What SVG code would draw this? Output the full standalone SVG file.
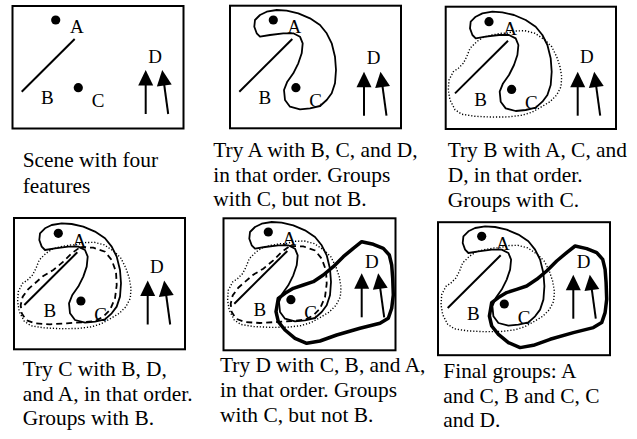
<svg xmlns="http://www.w3.org/2000/svg" xmlns:xlink="http://www.w3.org/1999/xlink" width="637" height="439" viewBox="0 0 637 439">
<style>
.frame{fill:#fff;stroke:#000;stroke-width:2}
.lbl{font-size:19px;fill:#000}
.cap{font-size:21.4px;fill:#000}
.thin{fill:none;stroke:#000;stroke-width:1.8;stroke-linejoin:round}
.dot{fill:none;stroke:#000;stroke-width:1.4;stroke-dasharray:1.2 1.9}
.dash{fill:none;stroke:#000;stroke-width:1.8;stroke-dasharray:6 4}
.thick{fill:none;stroke:#000;stroke-width:3.5;stroke-linejoin:round}
.shaft{stroke:#000;stroke-width:2}
</style>
<defs>
<g id="abc">
<circle cx="55.7" cy="20" r="4.6"/>
<text class="lbl" x="70" y="33.3">A</text>
<line class="shaft" x1="21.7" y1="91.7" x2="74.7" y2="39" stroke-width="1.8"/>
<text class="lbl" x="41" y="104">B</text>
<circle cx="78.3" cy="87.7" r="4.6"/>
<text class="lbl" x="91.7" y="107.3">C</text>
</g>
<g id="arrows">
<line class="shaft" x1="0" y1="14" x2="0" y2="44"/>
<polygon points="0,0 -7.5,15.5 7.5,15.5"/>
<line class="shaft" x1="18.4" y1="14" x2="22.5" y2="44"/>
<polygon points="16.5,0 26,14.4 11.2,16.4"/>
</g>
<path id="blobAC" class="thin" d="M42.4,15 L37.4,20 L36.7,26.7 L39.1,33.3 L42.4,36.7 L52.4,35 L65.7,33.3 L75.7,33.3 L82.4,36.7 L85.1,43.3 L84.1,53.3 L80.7,63.3 L75.7,73.3 L69.7,81.7 L66.4,90 L67.4,100 L72.4,106.7 L82.4,109.3 L92.4,108.3 L102.4,106 L109.1,100 L114.1,93.3 L117.4,83.3 L118.4,70 L117.4,56.7 L114.1,43.3 L109.1,33.3 L102.4,25 L92.4,18.3 L80.7,13.3 L69.1,10.7 L59.1,10 L49.1,11.7 Z"/>
<path id="blobBC" class="dot" d="M73.4,31.6 L81.7,29.3 L91.7,29 L101.7,31.6 L111.7,38.3 L118.4,45 L123.4,55 L126.7,65 L128.4,75 L127.7,85 L123.4,93.3 L116.7,100 L108.4,105 L98.4,110.6 L88.4,113.6 L75,115.2 L58.4,115.4 L41.7,114.6 L28.4,112.5 L21.7,108 L16.7,98.3 L15,88.3 L15.7,78.3 L20,70 L25,66.6 L30,61.6 L33.4,55 L36.7,46.6 L43.4,40 L50,35.6 L58.4,33.3 L68.4,31.6 Z"/>
<path id="blobDash" class="dash" d="M77.4,34 L90.7,34.4 L102.4,38.4 L109.1,46.7 L113.4,58.4 L114.1,71.7 L112.4,85 L107.4,96.7 L100.7,103.4 L92.4,107.7 L79.1,109 L64.1,110 L47.4,111 L32.4,110 L23.4,106.7 L19.1,100 L18.1,91.7 L20.1,83.4 L25.7,75.7 L34.1,68.4 L40.7,62.7 L50.7,56.7 L60.7,48.4 L69.1,40 Z"/>
<path id="blobCD" class="thick" d="M149.1,29.7 L160.7,32.3 L170.7,36.3 L176.7,43 L179.1,53 L180.1,66.3 L180.7,83 L179.1,96.3 L175.7,106.3 L167.4,111.3 L147.4,116.3 L124.1,123 L107.4,129 L94.1,131.3 L82.4,126.3 L72.4,118 L65.7,109.7 L63.4,99.7 L65.7,86.3 L72.4,81.3 L80.7,76.3 L90.7,73 L100.7,69.7 L110.7,63 L120.7,54.7 L130.7,44.7 L140.7,36.3 Z"/>
</defs>

<g font-family="Liberation Serif, Times New Roman, DejaVu Serif, serif">
<g id="panel1">
<rect class="frame" x="12.5" y="6" width="171" height="122.5"/>
<use xlink:href="#abc"/>
<text class="lbl" x="148.3" y="62.7">D</text>
<use xlink:href="#arrows" transform="translate(145.7,70)"/>
<text class="cap" x="22.7" y="166.7">Scene with four</text>
<text class="cap" x="22.7" y="192.7">features</text>
</g>

<g id="panel2">
<rect class="frame" x="230" y="5.7" width="171" height="122.6"/>
<g transform="translate(217.6,0)">
<use xlink:href="#abc"/>
<use xlink:href="#blobAC"/>
</g>
<text class="lbl" x="366.7" y="64.3">D</text>
<use xlink:href="#arrows" transform="translate(364,71.7)"/>
<text class="cap" x="213.3" y="156.7">Try A with B, C, and D,</text>
<text class="cap" x="213.3" y="181.7">in that order. Groups</text>
<text class="cap" x="213.3" y="205.5">with C, but not B.</text>
</g>

<g id="panel3">
<rect class="frame" x="445.7" y="6.7" width="170.3" height="122.3"/>
<g transform="translate(433.3,1.7)">
<use xlink:href="#abc"/>
<use xlink:href="#blobAC"/>
<use xlink:href="#blobBC"/>
</g>
<text class="lbl" x="580" y="62.7">D</text>
<use xlink:href="#arrows" transform="translate(577.7,71.7)"/>
<text class="cap" x="447.7" y="156.5">Try B with A, C, and</text>
<text class="cap" x="447.7" y="181.7">D, in that order.</text>
<text class="cap" x="447.7" y="206.7">Groups with C.</text>
</g>

<g id="panel4">
<rect class="frame" x="14" y="218" width="171" height="131.3"/>
<g transform="translate(2.6,213.3)">
<use xlink:href="#abc"/>
<use xlink:href="#blobAC"/>
<use xlink:href="#blobBC"/>
<use xlink:href="#blobDash"/>
</g>
<text class="lbl" x="150" y="273">D</text>
<use xlink:href="#arrows" transform="translate(147.7,280.5)"/>
<text class="cap" x="22.7" y="376">Try C with B, D,</text>
<text class="cap" x="22.7" y="400.5">and A, in that order.</text>
<text class="cap" x="22.7" y="425">Groups with B.</text>
</g>

<g id="panel5">
<rect class="frame" x="223.5" y="218.3" width="172" height="132"/>
<g transform="translate(212.6,212)">
<use xlink:href="#abc"/>
<use xlink:href="#blobAC"/>
<use xlink:href="#blobBC"/>
<use xlink:href="#blobDash"/>
<use xlink:href="#blobCD"/>
</g>
<text class="lbl" x="365" y="268.3">D</text>
<use xlink:href="#arrows" transform="translate(361.7,273.3)"/>
<text class="cap" x="220" y="371.7">Try D with C, B, and A,</text>
<text class="cap" x="220" y="396.7">in that order. Groups</text>
<text class="cap" x="220" y="421.7">with C, but not B.</text>
</g>

<g id="panel6">
<rect class="frame" x="438" y="222.2" width="172" height="133"/>
<g transform="translate(426,216.3)">
<use xlink:href="#abc"/>
<use xlink:href="#blobAC"/>
<use xlink:href="#blobBC"/>
<use xlink:href="#blobCD"/>
</g>
<text class="lbl" x="576.7" y="268">D</text>
<use xlink:href="#arrows" transform="translate(573.3,274.7)"/>
<text class="cap" x="443.3" y="377.7">Final groups: A</text>
<text class="cap" x="443.3" y="402.7">and C, B and C, C</text>
<text class="cap" x="443.3" y="427.3">and D.</text>
</g>
</g>
</svg>
